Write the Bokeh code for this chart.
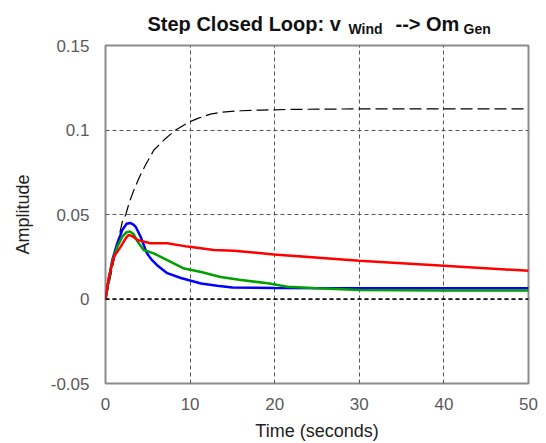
from bokeh.plotting import figure
from bokeh.models import Span, FixedTicker, Range1d
from bokeh.layouts import column
from bokeh.core.properties import value
from bokeh.embed import file_html
from bokeh.resources import INLINE

# ---- data ----
t_final = [0, 0.5, 1.0, 1.5, 2.0, 2.4, 2.8, 3.4, 4.0, 4.7, 5.7, 7.1, 8.3, 9.8, 11.0,
           12.4, 13.8, 16.0, 18.4, 22.0, 30.0, 50.0]
y_final = [0, 0.011, 0.023, 0.035, 0.046, 0.050, 0.057, 0.065, 0.072, 0.079, 0.088,
           0.095, 0.100, 0.1045, 0.107, 0.1094, 0.1106, 0.1114, 0.1118, 0.1122, 0.1125, 0.1125]

t_blue = [0, 0.4, 0.8, 1.4, 2.0, 2.5, 2.9, 3.3, 3.6, 4.15, 4.9, 5.5, 6.1, 7.3, 8.9,
          11.3, 13.2, 15.0, 20.0, 30.0, 40.0, 50.0]
y_blue = [0, 0.012, 0.023, 0.033, 0.041, 0.0445, 0.045, 0.044, 0.0425, 0.0368, 0.027,
          0.023, 0.020, 0.0153, 0.0124, 0.0092, 0.0078, 0.0068, 0.0065, 0.0064, 0.0064, 0.0064]

t_green = [0, 0.4, 0.8, 1.4, 2.0, 2.5, 2.9, 3.3, 3.8, 4.5, 5.7, 7.3, 9.3, 11.3, 13.6,
           16.0, 19.2, 21.5, 25.1, 30.0, 40.0, 50.0]
y_green = [0, 0.012, 0.022, 0.031, 0.037, 0.0395, 0.040, 0.0385, 0.034, 0.029, 0.027,
           0.023, 0.018, 0.016, 0.013, 0.0112, 0.0093, 0.0073, 0.0063, 0.0053, 0.0050, 0.0050]

t_red = [0, 0.4, 1.0, 1.8, 2.4, 2.76, 3.2, 3.75, 5.3, 7.3, 9.7, 12.8, 15.2, 19.9,
         30.0, 40.0, 50.0]
y_red = [0, 0.013, 0.025, 0.031, 0.036, 0.038, 0.037, 0.035, 0.033, 0.033, 0.031,
         0.029, 0.0285, 0.0264, 0.0227, 0.0197, 0.0167]

x_ticks = [0, 10, 20, 30, 40, 50]
y_ticks = [-0.05, 0, 0.05, 0.1, 0.15]
y_tick_labels = {-0.05: "-0.05", 0: "0", 0.05: "0.05", 0.1: "0.1", 0.15: "0.15"}

title_main = ["Step Closed Loop: v", "--> Om"]
title_sub = ["Wind", "Gen"]

FONT = "Liberation Sans"
W, H = 546, 443
LEFT, RIGHT = 105, 18
TOP = 34          # height of the title strip
FRAME_TOP = 45    # frame top in page pixels

# ---- title strip: x in page pixels (frames are aligned), y measured from top ----
t = figure(width=W, height=TOP, output_backend="svg", toolbar_location=None,
           title_location=None,
           x_range=Range1d(LEFT, W - RIGHT), y_range=Range1d(TOP, 0),
           x_axis_location=None, y_axis_location=None, min_border=0,
           min_border_left=LEFT, min_border_right=RIGHT)
t.grid.visible = False
t.outline_line_color = None
t.background_fill_color = "white"
t.border_fill_color = "white"
t.text(x=[147, 395], y=[23, 23], text=title_main, text_font=value(FONT),
       text_font_size="20px", text_font_style="bold", text_color="#111111",
       text_baseline="alphabetic", text_align="left")
t.text(x=[348, 463], y=[28, 28], text=title_sub, text_font=value(FONT),
       text_font_size="14px", text_font_style="bold", text_color="#111111",
       text_baseline="alphabetic", text_align="left")

# ---- main plot ----
p = figure(width=W, height=H - TOP, output_backend="svg", toolbar_location=None,
           title_location=None,
           x_range=Range1d(0, 50), y_range=Range1d(-0.05, 0.15),
           min_border_left=LEFT, min_border_right=RIGHT, min_border_top=FRAME_TOP - TOP,
           min_border_bottom=60)
p.background_fill_color = "white"
p.border_fill_color = "white"
p.outline_line_color = "#8c8c8c"
p.outline_line_width = 2

p.xaxis.ticker = FixedTicker(ticks=x_ticks)
p.yaxis.ticker = FixedTicker(ticks=y_ticks)
p.yaxis.major_label_overrides = y_tick_labels
for ax in (p.xaxis[0], p.yaxis[0]):
    ax.axis_line_color = None
    ax.major_tick_line_color = None
    ax.minor_tick_line_color = None
    ax.major_label_text_font = FONT
    ax.major_label_text_font_size = "17px"
    ax.major_label_text_color = "#5a5a5a"
    ax.axis_label_text_font = FONT
    ax.axis_label_text_font_size = "18px"
    ax.axis_label_text_font_style = "normal"
    ax.axis_label_text_color = "#222222"
p.xaxis.axis_label = "Time (seconds)"
p.yaxis.axis_label = "Amplitude"
p.xaxis.major_label_standoff = 8
p.yaxis.major_label_standoff = 10
p.xaxis.axis_label_standoff = 8
p.yaxis.axis_label_standoff = 15

for g in (p.xgrid[0], p.ygrid[0]):
    g.grid_line_color = "#555555"
    g.grid_line_dash = "4 3"
    g.grid_line_width = 1

p.add_layout(Span(location=0, dimension="width", line_color="black",
                  line_dash="4 3", line_width=1.3))

p.line(t_final, y_final, line_color="black", line_width=1.2, line_dash="12 5")
p.line(t_blue, y_blue, line_color="#0000ff", line_width=2.5)
p.line(t_green, y_green, line_color="#00a000", line_width=2.5)
p.line(t_red, y_red, line_color="#ff0000", line_width=2.5)

layout = column(t, p, spacing=0)
open("out.html", "w").write(file_html(layout, INLINE))
